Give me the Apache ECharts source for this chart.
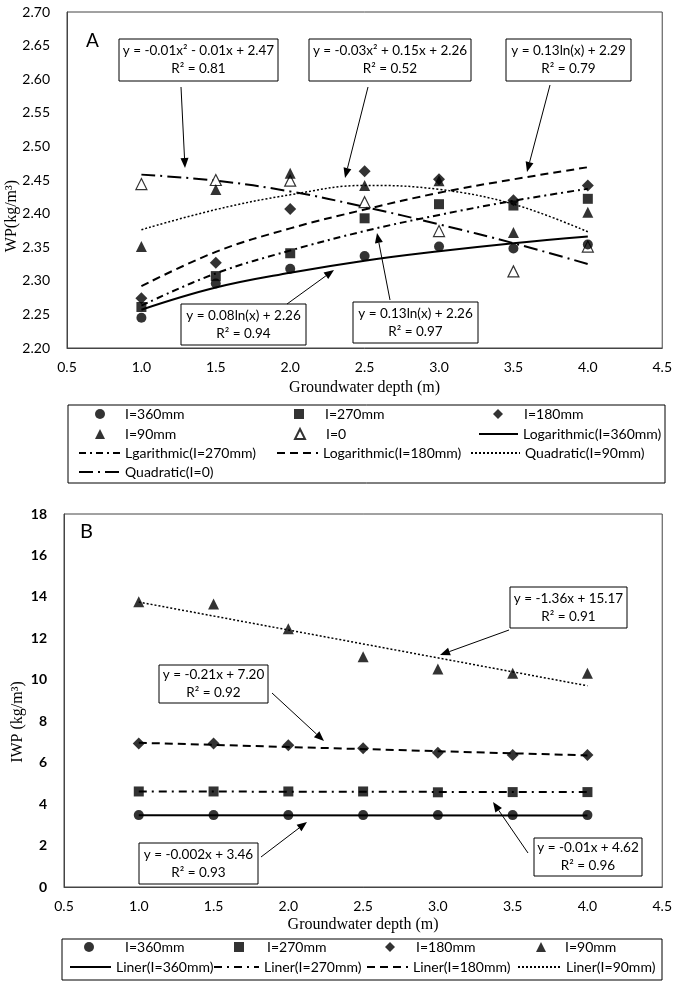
<!DOCTYPE html>
<html>
<head>
<meta charset="utf-8">
<script src="https://cdn.jsdelivr.net/npm/echarts@6/dist/echarts.min.js"></script>
<style>
html,body{margin:0;padding:0;background:#fff;}
#c{width:675px;height:989px;}
</style>
</head>
<body>
<div id="c"></div>
<script>
// ---------- data ----------
const depths = [1.0, 1.5, 2.0, 2.5, 3.0, 3.5, 4.0];
const xTicks = ['0.5','1.0','1.5','2.0','2.5','3.0','3.5','4.0','4.5'];

// Panel A: WP (kg/m3)
const wp360 = [2.245, 2.296, 2.318, 2.337, 2.351, 2.348, 2.354];
const wp270 = [2.261, 2.307, 2.341, 2.393, 2.414, 2.412, 2.422];
const wp180 = [2.274, 2.327, 2.407, 2.463, 2.451, 2.420, 2.442];
const wp90  = [2.351, 2.436, 2.460, 2.442, 2.449, 2.372, 2.402];
const wp0   = [2.444, 2.450, 2.449, 2.417, 2.374, 2.314, 2.351];
// trend lines at each depth
const trLog360 = [2.257, 2.290, 2.312, 2.330, 2.344, 2.356, 2.366];
const trLog270 = [2.263, 2.311, 2.345, 2.374, 2.398, 2.419, 2.437];
const trLog180 = [2.292, 2.343, 2.378, 2.406, 2.431, 2.451, 2.469];
const trQuad90 = [2.376, 2.406, 2.428, 2.442, 2.436, 2.414, 2.373];
const trQuad0  = [2.458, 2.449, 2.433, 2.410, 2.384, 2.356, 2.325];

// Panel B: IWP (kg/m3)
const iwp360 = [3.47, 3.47, 3.47, 3.47, 3.47, 3.47, 3.47];
const iwp270 = [4.61, 4.61, 4.61, 4.61, 4.57, 4.58, 4.58];
const iwp180 = [6.93, 6.92, 6.84, 6.69, 6.48, 6.37, 6.37];
const iwp90  = [13.77, 13.66, 12.46, 11.11, 10.52, 10.31, 10.31];
const linEnds = [1.0, 4.0];
const lin360 = [3.46, 3.45];
const lin270 = [4.61, 4.58];
const lin180 = [6.96, 6.35];
const lin90  = [13.75, 9.71];

// ---------- styles ----------
const SANS = 'Lato, "Liberation Sans", sans-serif';
const SERIF = '"Liberation Serif", "DejaVu Serif", serif';
const pairs = (xs, ys) => xs.map((x, i) => [x, ys[i]]);

function scatter(name, sym, size, vals, grid, open) {
  return {
    type: 'scatter', name, xAxisIndex: grid, yAxisIndex: grid,
    symbol: sym, symbolSize: size, z: 5,
    itemStyle: open ? {color: '#fff', borderColor: '#000', borderWidth: 1.2}
                    : {color: '#000', borderWidth: 0},
    data: pairs(depths, vals)
  };
}
function trend(name, xs, vals, grid, type, width, smooth) {
  return {
    type: 'line', name, xAxisIndex: grid, yAxisIndex: grid,
    symbol: 'none', smooth: smooth ? 0.4 : false, z: 3,
    lineStyle: {color: '#000', width, type},
    itemStyle: {color: 'rgba(0,0,0,0)', borderWidth: 0},
    data: pairs(xs, vals)
  };
}

const series = [
  trend('Logarithmic(I=360mm)', depths, trLog360, 0, 'solid', 2, true),
  trend('Lgarithmic(I=270mm)', depths, trLog270, 0, [7,4,2,4], 2, true),
  trend('Logarithmic(I=180mm)', depths, trLog180, 0, [8,5], 2, true),
  trend('Quadratic(I=90mm)', depths, trQuad90, 0, [2,2], 1.5, true),
  trend('Quadratic(I=0)', depths, trQuad0, 0, [14,5,2,5], 2, true),
  scatter('I=0', 'triangle', 11, wp0, 0, true),
  scatter('I=90mm', 'triangle', 11, wp90, 0),
  scatter('I=360mm', 'circle', 10, wp360, 0),
  scatter('I=270mm', 'rect', 10, wp270, 0),
  scatter('I=180mm', 'diamond', 12, wp180, 0),

  trend('Liner(I=360mm)', linEnds, lin360, 1, 'solid', 2, false),
  trend('Liner(I=270mm)', linEnds, lin270, 1, [8,5,2,5], 2, false),
  trend('Liner(I=180mm)', linEnds, lin180, 1, [8,5], 2, false),
  trend('Liner(I=90mm)', linEnds, lin90, 1, [2,2], 1.5, false),
  scatter('I=360mm', 'circle', 10, iwp360, 1),
  scatter('I=270mm', 'rect', 10, iwp270, 1),
  scatter('I=180mm', 'diamond', 12, iwp180, 1),
  scatter('I=90mm', 'triangle', 11, iwp90, 1)
];

// ---------- legends ----------
function legM(name, cx, tx, rowY) {
  return {data: [name], left: cx - 5, top: rowY - 8, itemWidth: 10, itemHeight: 10,
          padding: 0, selectedMode: false,
          textStyle: {fontFamily: SANS, fontSize: 14, color: '#000', padding: [0, 0, 0, tx - cx - 10]}};
}
function legL(name, x1, x2, rowY) {
  return {data: [name], left: x1, top: rowY - 8, itemWidth: x2 - x1, itemHeight: 10,
          padding: 0, selectedMode: false, itemStyle: {opacity: 0},
          textStyle: {fontFamily: SANS, fontSize: 14, color: '#000'}};
}
const legends = [
  legM('I=360mm', 100, 125, 415), legM('I=270mm', 299, 325, 415), legM('I=180mm', 498, 524, 415),
  legM('I=90mm', 100, 125, 435), legM('I=0', 299, 325, 435), legL('Logarithmic(I=360mm)', 478, 517, 435),
  legL('Lgarithmic(I=270mm)', 78, 119, 454), legL('Logarithmic(I=180mm)', 276, 317, 454), legL('Quadratic(I=90mm)', 470, 519, 454),
  legL('Quadratic(I=0)', 78, 119, 473),

  legM('I=360mm', 89, 125, 948), legM('I=270mm', 239, 267, 948), legM('I=180mm', 390, 416, 948), legM('I=90mm', 541, 565, 948),
  legL('Liner(I=360mm)', 69, 110, 968), legL('Liner(I=270mm)', 213, 258, 968), legL('Liner(I=180mm)', 366, 407, 968), legL('Liner(I=90mm)', 517, 560, 968)
];

// ---------- annotations ----------
const graphics = [];
function box(x1, y1, x2, y2, txt) {
  graphics.push({type: 'rect', shape: {x: x1, y: y1, width: x2 - x1, height: y2 - y1},
    style: {fill: '#fff', stroke: '#000', lineWidth: 1}, z: 20});
  graphics.push({type: 'text', x: (x1 + x2) / 2, y: (y1 + y2) / 2, z: 21,
    style: {text: txt, fontFamily: SANS, fontSize: 13.5, fill: '#000', align: 'center',
            verticalAlign: 'middle', lineHeight: 18}});
}
function arrow(x1, y1, x2, y2) {
  const a = Math.atan2(y2 - y1, x2 - x1), L = 10, W = 4;
  const bx = x2 - L * Math.cos(a), by = y2 - L * Math.sin(a);
  graphics.push({type: 'line', shape: {x1, y1, x2: bx, y2: by}, style: {stroke: '#000', lineWidth: 1}, z: 20});
  graphics.push({type: 'polygon', z: 20, shape: {points: [[x2, y2],
    [bx + W * Math.sin(a), by - W * Math.cos(a)], [bx - W * Math.sin(a), by + W * Math.cos(a)]]},
    style: {fill: '#000'}});
}
function legendBox(x1, y1, x2, y2) {
  graphics.push({type: 'rect', shape: {x: x1, y: y1, width: x2 - x1, height: y2 - y1},
    style: {fill: 'none', stroke: '#000', lineWidth: 1}, z: 1});
}
// Panel A
box(119, 39, 278, 81, 'y = -0.01x² - 0.01x + 2.47\nR² = 0.81'); arrow(181, 87, 185, 168);
box(309, 39, 471, 81, 'y = -0.03x² + 0.15x + 2.26\nR² = 0.52'); arrow(368, 87, 345, 178);
box(506, 39, 631, 81, 'y = 0.13ln(x) + 2.29\nR² = 0.79'); arrow(550, 85, 527, 172);
box(181, 304, 306, 345, 'y = 0.08ln(x) + 2.26\nR² = 0.94'); arrow(287, 304, 334, 270);
box(353, 302, 478, 343, 'y = 0.13ln(x) + 2.26\nR² = 0.97'); arrow(390, 300, 377, 233);
graphics.push({type: 'text', x: 86, y: 31, style: {text: 'A', fontFamily: SANS, fontSize: 19, fill: '#000'}});
legendBox(68, 405, 665, 483);
// Panel B
box(510, 587, 627, 628, 'y = -1.36x + 15.17\nR² = 0.91'); arrow(509, 630, 440, 655);
box(159, 665, 268, 703, 'y = -0.21x + 7.20\nR² = 0.92'); arrow(272, 693, 324, 741);
box(139, 843, 258, 884, 'y = -0.002x + 3.46\nR² = 0.93'); arrow(261, 857, 307, 822);
box(534, 838, 642, 876, 'y = -0.01x + 4.62\nR² = 0.96'); arrow(528, 853, 493, 802);
graphics.push({type: 'text', x: 80, y: 522, style: {text: 'B', fontFamily: SANS, fontSize: 20, fill: '#000'}});
legendBox(62, 939, 662, 980);
// axis titles
graphics.push({type: 'text', x: 12, y: 216, rotation: Math.PI / 2,
  style: {text: 'WP(kg/m³)', fontFamily: SERIF, fontSize: 16, fill: '#000', align: 'center', verticalAlign: 'middle'}});
graphics.push({type: 'text', x: 18, y: 722, rotation: Math.PI / 2,
  style: {text: 'IWP (kg/m³)', fontFamily: SERIF, fontSize: 16, fill: '#000', align: 'center', verticalAlign: 'middle'}});

// ---------- axes ----------
function xAx(grid, gap) {
  return {type: 'value', gridIndex: grid, min: 0.5, max: 4.5, interval: 0.5,
    name: 'Groundwater depth (m)', nameLocation: 'middle', nameGap: gap,
    nameTextStyle: {fontFamily: SERIF, fontSize: 16, color: '#000'},
    axisLine: {show: true, lineStyle: {color: '#444', width: 1}}, axisTick: {show: false},
    splitLine: {show: false},
    axisLabel: {margin: 12, fontFamily: SANS, fontSize: 14, color: '#000',
      formatter: v => xTicks[Math.round((v - 0.5) / 0.5)]}};
}
const option = {
  animation: false,
  backgroundColor: '#fff',
  grid: [
    {left: 67, top: 12, width: 596, height: 336, show: true, borderColor: '#444', borderWidth: 1, backgroundColor: 'transparent'},
    {left: 64, top: 514, width: 599, height: 373, show: true, borderColor: '#444', borderWidth: 1, backgroundColor: 'transparent'}
  ],
  xAxis: [xAx(0, 32), xAx(1, 30)],
  yAxis: [
    {type: 'value', gridIndex: 0, min: 2.2, max: 2.7, interval: 0.05,
     axisLine: {show: true, lineStyle: {color: '#444'}}, axisTick: {show: false}, splitLine: {show: false},
     axisLabel: {margin: 17, fontFamily: SANS, fontSize: 14, color: '#000', formatter: v => v.toFixed(2)}},
    {type: 'value', gridIndex: 1, min: 0, max: 18, interval: 2,
     axisLine: {show: true, lineStyle: {color: '#444'}}, axisTick: {show: false}, splitLine: {show: false},
     axisLabel: {margin: 17, fontFamily: SANS, fontSize: 14, fontWeight: 'bold', color: '#000'}}
  ],
  legend: legends,
  series,
  graphic: graphics
};
const chart = echarts.init(document.getElementById('c'));
chart.setOption(option);
</script>
</body>
</html>
